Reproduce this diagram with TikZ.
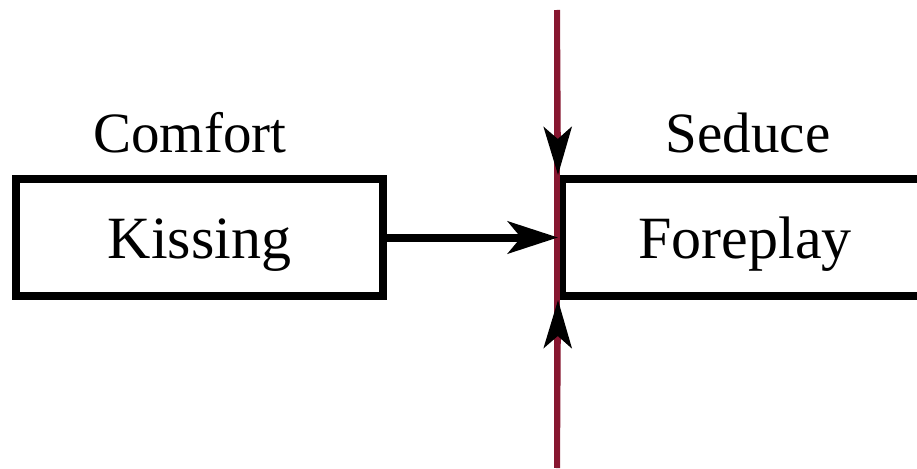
\documentclass[tikz,border=0pt]{standalone}
\usepackage{fontspec}
\setmainfont{Liberation Serif}
\usetikzlibrary{arrows.meta}
\definecolor{limitred}{RGB}{135,22,48}
\begin{document}
\begin{tikzpicture}[x=1pt,y=-1pt,
    stagebox/.style={draw,line width=8pt,rectangle,minimum height=117pt,inner sep=0pt,
      text height=55pt,text depth=14pt,font=\fontsize{60}{62}\selectfont},
    stagename/.style={anchor=base,inner sep=0pt,font=\fontsize{57}{60}\selectfont},
    limit/.style={draw=limitred,line width=6pt},
    push/.style={-{Stealth[length=48pt,width=28pt,inset=12pt,black]}}]
    \useasboundingbox (0,0) rectangle (917,468);
    \node[stagebox,minimum width=367pt] (kissing) at (199.5,237.5) {Kissing};
    \node[stagebox,minimum width=366pt,anchor=west] (foreplay) at (558,237.5) {Foreplay};
    \node[stagename] (comfort) at (190,152) {Comfort};
    \node[stagename] (seduce) at (748,152) {Seduce};
    \coordinate (top) at (557,10);
    \coordinate (bottom) at (557,468);
    \draw[limit] (top) -- (bottom);
    \draw[limit,push] (top) -- (foreplay.north west);
    \draw[limit,push] (bottom) -- (foreplay.south west);
    \draw[line width=8pt,-{Stealth[length=50pt,width=32pt,inset=13pt]}] (kissing.east) -- (foreplay.west);
\end{tikzpicture}
\end{document}
